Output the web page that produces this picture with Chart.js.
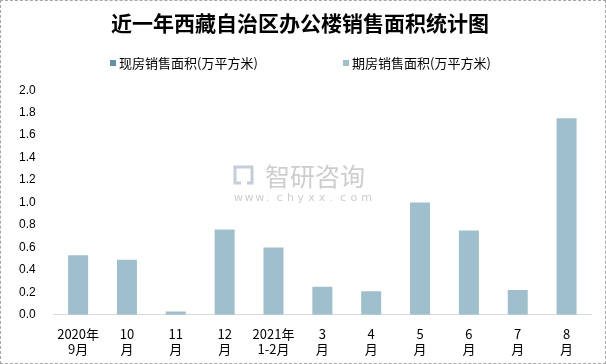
<!DOCTYPE html>
<html>
<head>
<meta charset="utf-8">
<script src="https://cdn.jsdelivr.net/npm/chart.js@4.4.1/dist/chart.umd.min.js"></script>
<style>
    html, body { margin: 0; padding: 0; background: #fff; }
    #wrap {
        position: relative;
        width: 604px;
        height: 362px;
        border: 1px dashed #a6a6a6;
        font-family: "Noto Sans CJK SC", "Liberation Sans", sans-serif;
    }
    #legend {
        position: absolute;
        top: 53px;
        left: 0;
        width: 100%;
        font-size: 13px;
        color: #000;
    }
    .item { position: absolute; white-space: nowrap; line-height: 18px; }
    .box { display: inline-block; width: 6px; height: 6px; margin-right: 3px; vertical-align: middle; position: relative; top: -1px; }
</style>
</head>
<body>
<div id="wrap">
    <canvas id="chart" width="604" height="362"></canvas>
    <div id="legend"></div>
</div>
<script>
// Chart data
const categories = [['2020年', '9月'], ['10', '月'], ['11', '月'], ['12', '月'], ['2021年', '1-2月'],
    ['3', '月'], ['4', '月'], ['5', '月'], ['6', '月'], ['7', '月'], ['8', '月']];
const seriesNames = ['现房销售面积(万平方米)', '期房销售面积(万平方米)'];
const xianfang = [0, 0, 0, 0, 0, 0, 0, 0, 0, 0, 0];
const qifang = [0.53, 0.49, 0.03, 0.76, 0.60, 0.25, 0.21, 1.00, 0.75, 0.22, 1.75];
const colors = ['#6390a6', '#a0bfcc'];

// HTML legend, spaced like the original
const legendPos = [109, 342];
const legend = document.getElementById('legend');
seriesNames.forEach((name, i) => {
    const item = document.createElement('div');
    item.className = 'item';
    item.style.left = legendPos[i] + 'px';
    item.innerHTML = '<span class="box" style="background:' + colors[i] + '"></span>' + name;
    legend.appendChild(item);
});

// faint watermark in the middle of the plot
const watermark = {
    id: 'watermark',
    beforeDatasetsDraw(chart) {
        const ctx = chart.ctx;
        ctx.save();
        // logo
        ctx.strokeStyle = '#c3ceda';
        ctx.lineWidth = 3;
        ctx.strokeRect(234, 166, 17, 16);
        ctx.fillStyle = '#fff';
        ctx.fillRect(240, 172, 6, 12);
        // name
        ctx.fillStyle = '#cdcdcd';
        ctx.font = '25px "Noto Sans CJK SC"';
        ctx.textBaseline = 'middle';
        ctx.fillText('智研咨询', 264, 175);
        // url, spread out
        ctx.font = '11px "DejaVu Sans"';
        const url = 'www.chyxx.com';
        for (let i = 0; i < url.length; i++) {
            ctx.fillText(url[i], 233 + i * 10.6, 197);
        }
        ctx.restore();
    }
};

new Chart(document.getElementById('chart'), {
    type: 'bar',
    data: {
        labels: categories,
        datasets: [{
            label: seriesNames[0],
            data: xianfang,
            backgroundColor: colors[0],
            grouped: false,
            categoryPercentage: 1,
            barPercentage: 0.41
        }, {
            label: seriesNames[1],
            data: qifang,
            backgroundColor: colors[1],
            grouped: false,
            categoryPercentage: 1,
            barPercentage: 0.41
        }]
    },
    options: {
        responsive: false,
        animation: false,
        layout: { padding: { left: 8, right: 14, top: 0, bottom: 3 } },
        plugins: {
            legend: { display: false },
            tooltip: { enabled: false },
            title: {
                display: true,
                text: '近一年西藏自治区办公楼销售面积统计图',
                color: '#000',
                font: { family: 'Noto Sans CJK SC', size: 21, weight: 'bold' },
                padding: { top: 9, bottom: 55 }
            }
        },
        scales: {
            x: {
                grid: { display: false },
                border: { color: '#d9d9d9', width: 1 },
                ticks: {
                    color: '#000',
                    font: { family: 'Noto Sans CJK SC', size: 13 },
                    maxRotation: 0,
                    autoSkip: false,
                    padding: 3
                }
            },
            y: {
                min: 0,
                max: 2,
                grid: { display: false },
                border: { display: false },
                ticks: {
                    stepSize: 0.2,
                    color: '#000',
                    font: { family: 'Liberation Sans', size: 12 },
                    padding: 10,
                    callback: v => v.toFixed(1)
                }
            }
        }
    },
    plugins: [watermark]
});
</script>
</body>
</html>
